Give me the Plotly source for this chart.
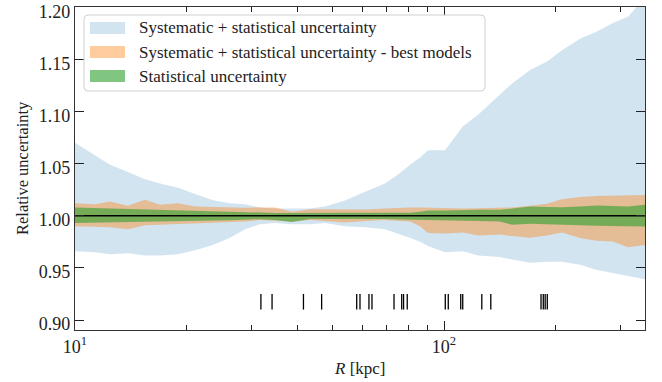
import plotly.graph_objects as go

# Galactocentric radius grid [kpc]
radius = [10.0, 11.33, 12.44, 13.92, 15.48, 17.0, 19.02, 21.15, 23.66, 26.3,
          28.89, 31.7, 34.83, 38.73, 43.35, 47.6, 53.9, 61.1, 69.2, 76.0,
          80.9, 86.1, 90.5, 100.6, 112.6, 123.7, 141.8, 152.9, 171.1, 190.2,
          208.8, 233.7, 259.8, 287.1, 315.2, 350.5]

# Systematic + statistical envelope
sys_hi = [1.070, 1.058, 1.049, 1.042, 1.035, 1.031, 1.027, 1.021, 1.015, 1.012,
          1.011, 1.008, 1.007, 1.007, 1.007, 1.009, 1.0146, 1.023, 1.031, 1.041,
          1.049, 1.056, 1.063, 1.063, 1.086, 1.097, 1.116, 1.127, 1.140, 1.148,
          1.159, 1.170, 1.177, 1.185, 1.191, 1.210]
sys_lo = [0.966, 0.965, 0.963, 0.964, 0.962, 0.962, 0.963, 0.967, 0.972, 0.979,
          0.987, 0.992, 0.993, 0.992, 0.992, 0.993, 0.990, 0.989, 0.987, 0.982,
          0.979, 0.975, 0.971, 0.965, 0.966, 0.962, 0.9605, 0.958, 0.955, 0.956,
          0.956, 0.953, 0.948, 0.945, 0.942, 0.939]

# Systematic + statistical envelope, best models only
best_hi = [1.012, 1.011, 1.0137, 1.0096, 1.0153, 1.0105, 1.012, 1.009, 1.0085, 1.008,
           1.0078, 1.008, 1.008, 1.004, 1.0064, 1.0063, 1.006, 1.006, 1.007, 1.008,
           1.008, 1.008, 1.0078, 1.0075, 1.007, 1.0073, 1.0073, 1.008, 1.0096, 1.0115,
           1.016, 1.018, 1.019, 1.0194, 1.0197, 1.020]
best_lo = [0.990, 0.9895, 0.989, 0.987, 0.991, 0.9915, 0.992, 0.9925, 0.993, 0.994,
           0.9945, 0.996, 0.995, 0.9945, 0.996, 0.995, 0.9936, 0.995, 0.996, 0.995,
           0.9945, 0.990, 0.9835, 0.983, 0.984, 0.981, 0.982, 0.9805, 0.979, 0.981,
           0.984, 0.9787, 0.976, 0.9754, 0.9697, 0.972]

# Statistical envelope
stat_hi = [1.008, 1.0075, 1.007, 1.0065, 1.006, 1.0055, 1.005, 1.0045, 1.004, 1.0035,
           1.0032, 1.003, 1.0028, 1.0027, 1.003, 1.003, 1.003, 1.003, 1.003, 1.003,
           1.003, 1.004, 1.005, 1.005, 1.0055, 1.0057, 1.0057, 1.007, 1.0089, 1.0085,
           1.0083, 1.009, 1.0099, 1.0095, 1.0089, 1.0105]
stat_lo = [0.993, 0.9932, 0.9935, 0.994, 0.9942, 0.9945, 0.995, 0.9952, 0.9955, 0.9958,
           0.996, 0.9968, 0.996, 0.994, 0.997, 0.997, 0.997, 0.997, 0.997, 0.9965,
           0.996, 0.996, 0.9958, 0.9955, 0.9952, 0.995, 0.9945, 0.9914, 0.9923, 0.992,
           0.9915, 0.991, 0.9905, 0.990, 0.990, 0.9898]

# Radii of the tracer objects (rug)
tracer_r = [31.9, 34.2, 41.6, 46.6, 58.0, 59.2, 62.6, 63.8, 73.2, 76.8, 77.7, 79.5,
            100.8, 102.7, 111.0, 112.4, 126.6, 133.9, 183.2, 185.8, 188.0, 190.5]

band_labels = ["Systematic + statistical uncertainty",
               "Systematic + statistical uncertainty - best models",
               "Statistical uncertainty"]

C_SYS = "rgba(31,119,180,0.2)"
C_BEST = "rgba(255,127,14,0.4)"
C_STAT = "rgba(44,160,44,0.6)"
SW_SYS = "rgb(210,228,240)"
SW_BEST = "rgb(255,204,158)"
SW_STAT = "rgb(128,198,128)"

FONT = "Liberation Serif"

fig = go.Figure()


def band(lo, hi, color, name):
    fig.add_trace(go.Scatter(
        x=radius + radius[::-1], y=hi + lo[::-1],
        fill="toself", fillcolor=color, mode="lines",
        line=dict(width=0), hoverinfo="skip", name=name, showlegend=False))


band(sys_lo, sys_hi, C_SYS, band_labels[0])
band(best_lo, best_hi, C_BEST, band_labels[1])
band(stat_lo, stat_hi, C_STAT, band_labels[2])

# unity reference line
fig.add_trace(go.Scatter(x=[radius[0], radius[-1]], y=[1.0, 1.0], mode="lines",
                         line=dict(color="black", width=1.6), showlegend=False,
                         hoverinfo="skip"))

# rug of tracer radii
rug_x, rug_y = [], []
for r in tracer_r:
    rug_x += [r, r, None]
    rug_y += [0.910, 0.925, None]
fig.add_trace(go.Scatter(x=rug_x, y=rug_y, mode="lines",
                         line=dict(color="black", width=1.3), showlegend=False,
                         hoverinfo="skip"))

# plot area in pixels
L, R_, T, B = 75, 645, 7, 330
W, H = 662, 382


def px(x):
    return (x - L) / (R_ - L)


def py(y):
    return (B - y) / (B - T)


# legend frame with rounded corners
x0, x1, y0, y1, rr = 84, 485, 15, 91, 4
path = (f"M{px(x0 + rr)},{py(y0)} L{px(x1 - rr)},{py(y0)} "
        f"Q{px(x1)},{py(y0)} {px(x1)},{py(y0 + rr)} L{px(x1)},{py(y1 - rr)} "
        f"Q{px(x1)},{py(y1)} {px(x1 - rr)},{py(y1)} L{px(x0 + rr)},{py(y1)} "
        f"Q{px(x0)},{py(y1)} {px(x0)},{py(y1 - rr)} L{px(x0)},{py(y0 + rr)} "
        f"Q{px(x0)},{py(y0)} {px(x0 + rr)},{py(y0)} Z")
shapes = [dict(type="path", path=path, xref="paper", yref="paper",
               fillcolor="rgba(255,255,255,0.8)", line=dict(color="#d0d0d0", width=1))]
annotations = []
for i, (lab, col) in enumerate(zip(band_labels, [SW_SYS, SW_BEST, SW_STAT])):
    yc = 28 + 24 * i
    shapes.append(dict(type="rect", xref="paper", yref="paper",
                       x0=px(90), x1=px(125), y0=py(yc - 6), y1=py(yc + 6),
                       fillcolor=col, line=dict(width=0)))
    annotations.append(dict(xref="paper", yref="paper", x=px(137), y=py(yc),
                            text=lab, showarrow=False, xanchor="left", yanchor="middle",
                            font=dict(family=FONT, size=17, color="#222")))

# axis titles
annotations.append(dict(xref="paper", yref="paper", x=px(360), y=py(368),
                        text="<i>R</i> [kpc]", showarrow=False,
                        xanchor="center", yanchor="middle",
                        font=dict(family=FONT, size=17, color="#222")))
annotations.append(dict(xref="paper", yref="paper", x=px(22), y=py(168),
                        text="Relative uncertainty", showarrow=False, textangle=-90,
                        xanchor="center", yanchor="middle",
                        font=dict(family=FONT, size=16.5, color="#222")))

axis_common = dict(showgrid=False, zeroline=False, showline=True, linecolor="#333",
                   linewidth=1.2, mirror="ticks", ticks="inside", tickcolor="#222",
                   tickwidth=1.2, ticklabeloverflow="allow",
                   tickfont=dict(family=FONT, size=18, color="#222"))

fig.update_layout(
    width=W, height=H,
    margin=dict(l=L, r=W - R_, t=T, b=H - B, autoexpand=False),
    paper_bgcolor="white", plot_bgcolor="white",
    showlegend=False,
    shapes=shapes, annotations=annotations,
    xaxis=dict(type="log", range=[1, 2.5447],
               tickvals=[10, 100], ticktext=["10<sup>1</sup>", "10<sup>2</sup>"],
               ticklen=9,
               minor=dict(tickvals=[20, 30, 40, 50, 60, 70, 80, 90, 200, 300],
                          ticks="inside", ticklen=5, tickcolor="#222", tickwidth=1.1,
                          showgrid=False),
               **axis_common),
    yaxis=dict(range=[0.8904, 1.2004], tickvals=[0.90, 0.95, 1.00, 1.05, 1.10, 1.15, 1.20],
               tickformat=".2f", ticklen=9, ticklabelshift=4, **axis_common),
)

fig.write_html("out.html")
